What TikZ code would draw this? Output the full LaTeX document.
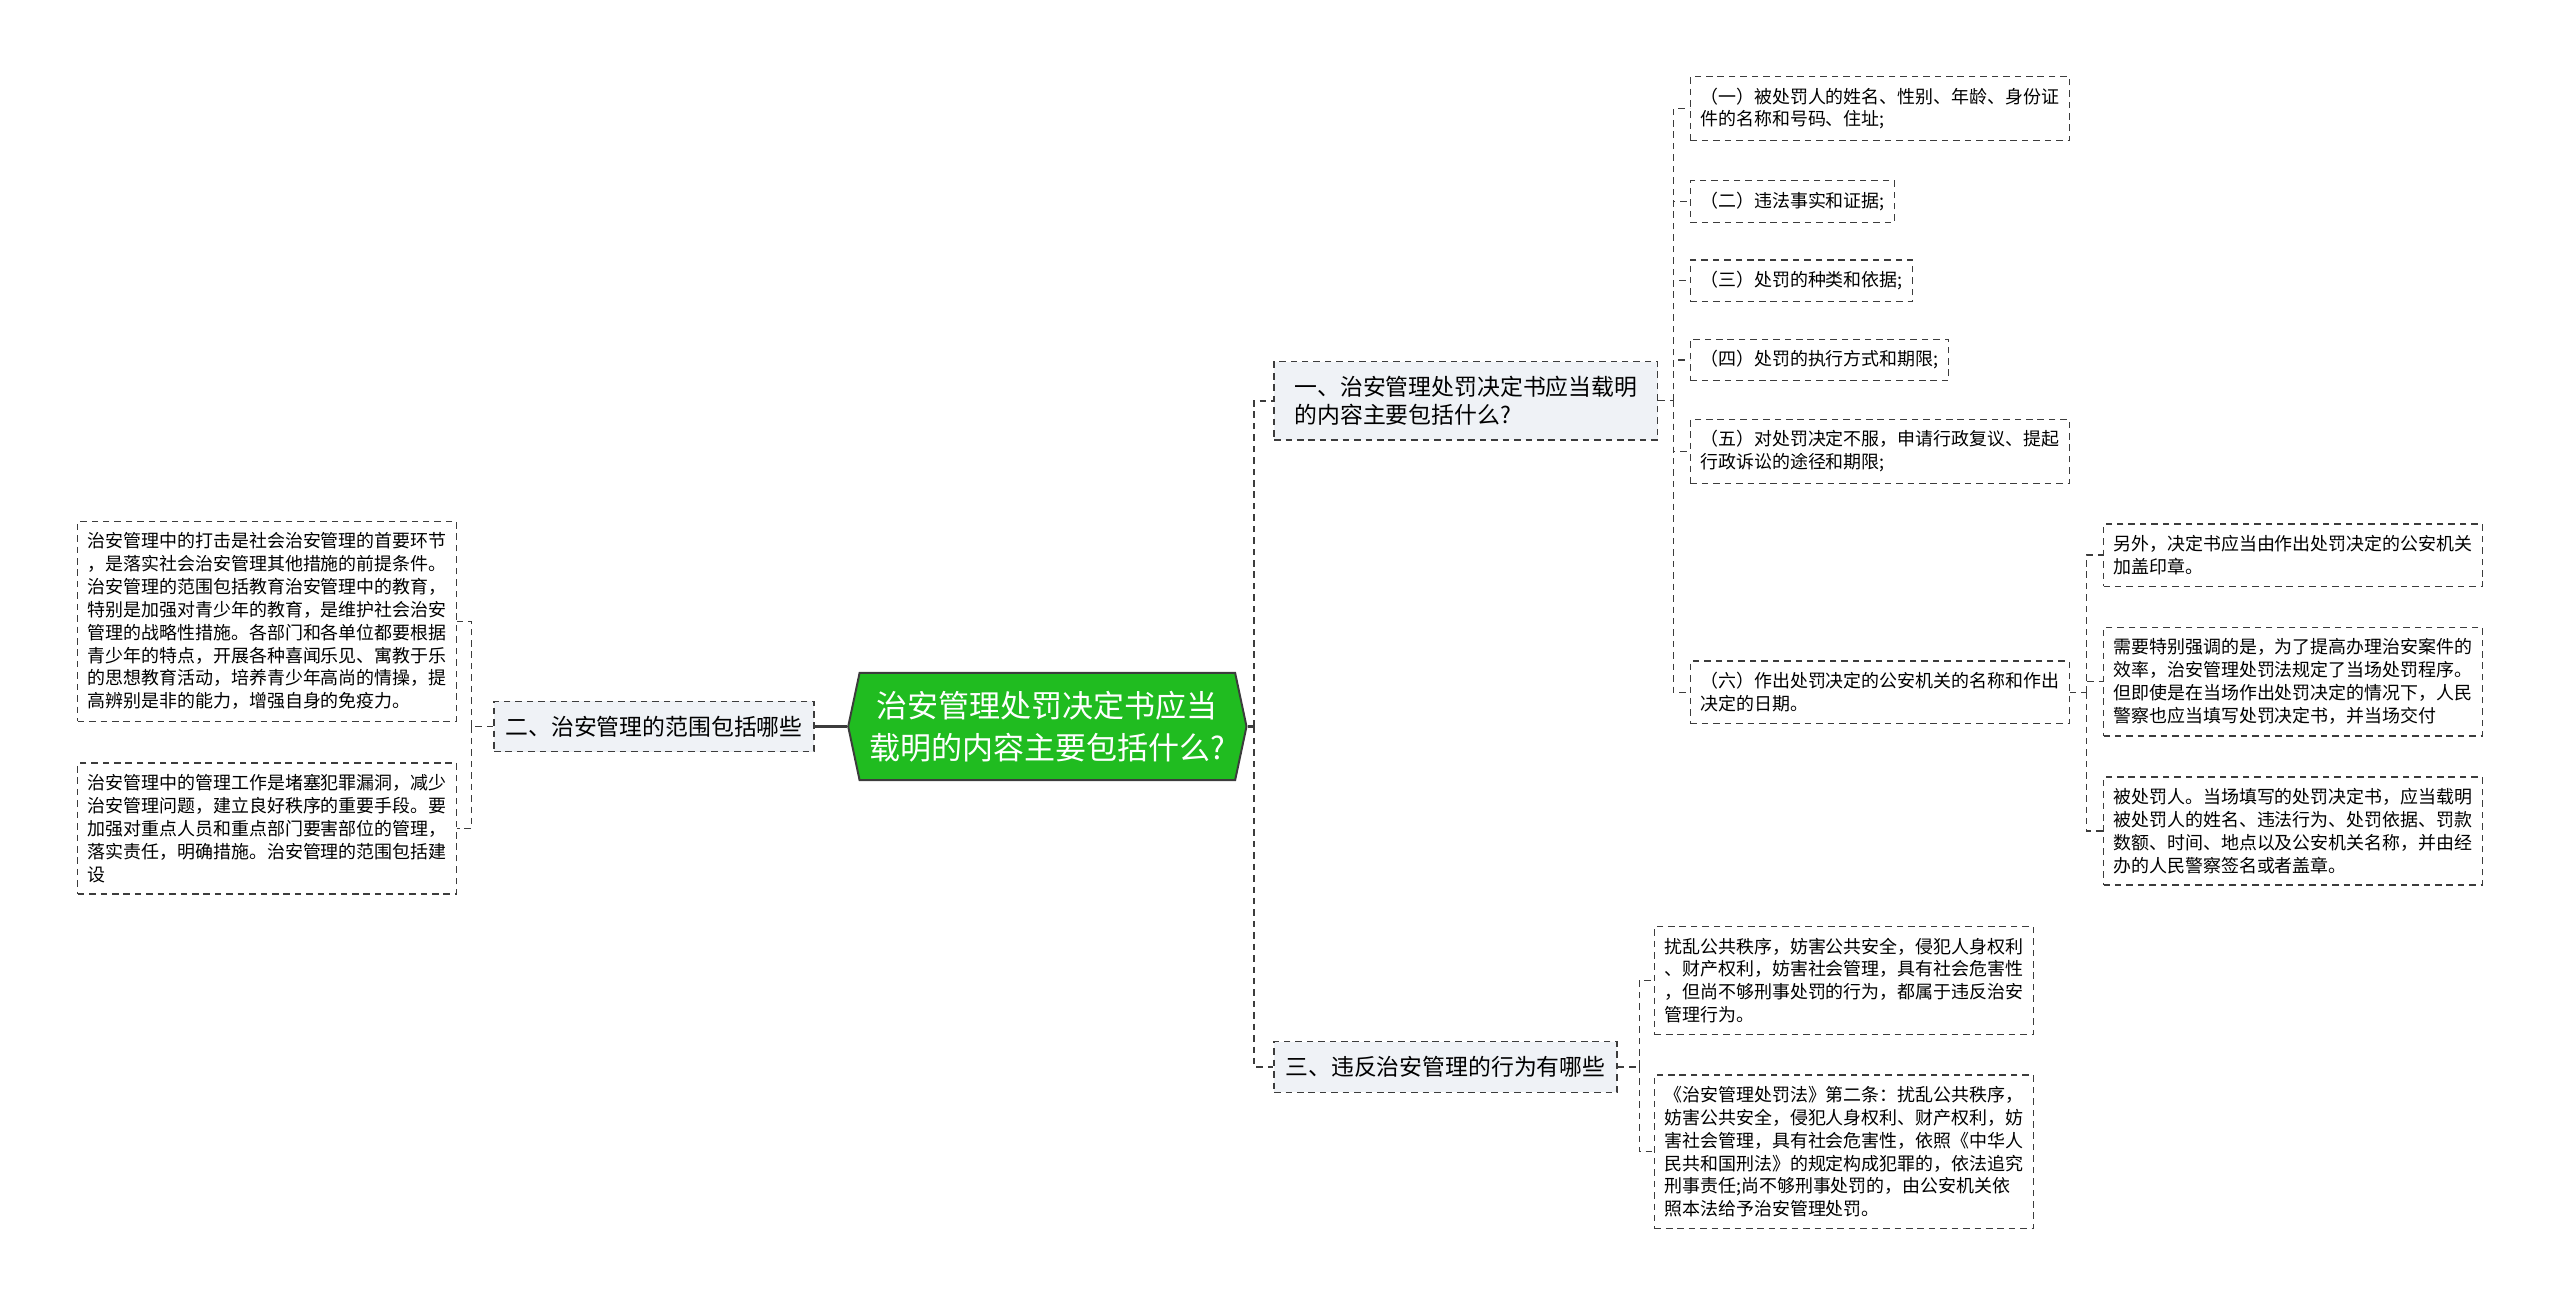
\documentclass[tikz,border=0pt]{standalone}
\usepackage{fontspec}
\newfontfamily\cjk{Noto Sans CJK SC}
\usetikzlibrary{shapes.symbols}
\definecolor{rootgreen}{RGB}{32,188,32}
\definecolor{edgegray}{RGB}{60,60,60}
\definecolor{topicfill}{RGB}{239,242,246}

\begin{document}
\begin{tikzpicture}[x=1pt,y=-1pt,
  main node/.style={signal,signal to=west and east,signal pointer angle=156,
    fill=rootgreen,draw=edgegray,line width=1.2pt,text=white,align=center,
    inner xsep=6pt,inner ysep=11pt,font=\cjk\fontsize{19pt}{26pt}\selectfont},
  topic node/.style={rectangle,draw=edgegray,fill=topicfill,dash pattern=on 4pt off 3pt,
    line width=0.8pt,align=left,inner xsep=7pt,inner ysep=9pt,
    font=\cjk\fontsize{14pt}{17pt}\selectfont},
  leaf node/.style={rectangle,draw=edgegray,fill=white,dash pattern=on 4pt off 3pt,
    line width=0.8pt,align=left,inner xsep=6pt,inner ysep=7pt,
    font=\cjk\fontsize{11pt}{14pt}\selectfont},
  trunk/.style={draw=edgegray,line width=1.6pt},
  link/.style={draw=edgegray,line width=0.8pt,dash pattern=on 4pt off 3pt}]

  \useasboundingbox (0,0) rectangle (1568,802);

  \node[main node] (root) at (641.5,445) {治安管理处罚决定书应当\\载明的内容主要包括什么?};

  % left side
  \node[topic node,anchor=east] (t2) at (499,445) {二、治安管理的范围包括哪些};
  \node[leaf node,anchor=east] (l1) at (280,380.5) {治安管理中的打击是社会治安管理的首要环节\\，是落实社会治安管理其他措施的前提条件。\\治安管理的范围包括教育治安管理中的教育，\\特别是加强对青少年的教育，是维护社会治安\\管理的战略性措施。各部门和各单位都要根据\\青少年的特点，开展各种喜闻乐见、寓教于乐\\的思想教育活动，培养青少年高尚的情操，提\\高辨别是非的能力，增强自身的免疫力。};
  \node[leaf node,anchor=east] (l2) at (280,507.5) {治安管理中的管理工作是堵塞犯罪漏洞，减少\\治安管理问题，建立良好秩序的重要手段。要\\加强对重点人员和重点部门要害部位的管理，\\落实责任，明确措施。治安管理的范围包括建\\设};

  % right side
  \node[topic node,anchor=west,minimum width=235pt] (t1) at (780,245.5) {一、治安管理处罚决定书应当载明\\的内容主要包括什么?};
  \node[topic node,anchor=west] (t3) at (780,653.5) {三、违反治安管理的行为有哪些};

  \node[leaf node,anchor=west] (c1) at (1035,66.5) {（一）被处罚人的姓名、性别、年龄、身份证\\件的名称和号码、住址;};
  \node[leaf node,anchor=west] (c2) at (1035,123.5) {（二）违法事实和证据;};
  \node[leaf node,anchor=west] (c3) at (1035,172) {（三）处罚的种类和依据;};
  \node[leaf node,anchor=west] (c4) at (1035,220.5) {（四）处罚的执行方式和期限;};
  \node[leaf node,anchor=west] (c5) at (1035,276.5) {（五）对处罚决定不服，申请行政复议、提起\\行政诉讼的途径和期限;};
  \node[leaf node,anchor=west] (c6) at (1035,424) {（六）作出处罚决定的公安机关的名称和作出\\决定的日期。};

  \node[leaf node,anchor=west] (d1) at (1288,340) {另外，决定书应当由作出处罚决定的公安机关\\加盖印章。};
  \node[leaf node,anchor=west] (d2) at (1288,417.5) {需要特别强调的是，为了提高办理治安案件的\\效率，治安管理处罚法规定了当场处罚程序。\\但即使是在当场作出处罚决定的情况下，人民\\警察也应当填写处罚决定书，并当场交付};
  \node[leaf node,anchor=west] (d3) at (1288,509) {被处罚人。当场填写的处罚决定书，应当载明\\被处罚人的姓名、违法行为、处罚依据、罚款\\数额、时间、地点以及公安机关名称，并由经\\办的人民警察签名或者盖章。};

  \node[leaf node,anchor=west] (e1) at (1013,600.5) {扰乱公共秩序，妨害公共安全，侵犯人身权利\\、财产权利，妨害社会管理，具有社会危害性\\，但尚不够刑事处罚的行为，都属于违反治安\\管理行为。};
  \node[leaf node,anchor=west] (e2) at (1013,705.5) {《治安管理处罚法》第二条：扰乱公共秩序，\\妨害公共安全，侵犯人身权利、财产权利，妨\\害社会管理，具有社会危害性，依照《中华人\\民共和国刑法》的规定构成犯罪的，依法追究\\刑事责任;尚不够刑事处罚的，由公安机关依\\照本法给予治安管理处罚。};

  % junctions
  \coordinate (jl) at (289,445);
  \coordinate (jr) at (768,445);
  \coordinate (j1) at (1025,245.5);
  \coordinate (j6) at (1278,424);
  \coordinate (j3) at (1004,653.5);

  \draw[trunk] (root.west) -- (t2.east);
  \draw[trunk] (root.east) -- (jr);
  \draw[link,line width=1.2pt] (jr) |- (t1.west);
  \draw[link,line width=1.2pt] (jr) |- (t3.west);

  \draw[link] (t2.west) -- (jl);
  \foreach \n in {l1,l2}
    \draw[link] (jl) |- (\n.east);

  \draw[link] (t1.east) -- (j1);
  \foreach \n in {c1,c2,c3,c4,c5,c6}
    \draw[link] (j1) |- (\n.west);

  \draw[link] (c6.east) -- (j6);
  \foreach \n in {d1,d2,d3}
    \draw[link] (j6) |- (\n.west);

  \draw[link] (t3.east) -- (j3);
  \foreach \n in {e1,e2}
    \draw[link] (j3) |- (\n.west);
\end{tikzpicture}
\end{document}
